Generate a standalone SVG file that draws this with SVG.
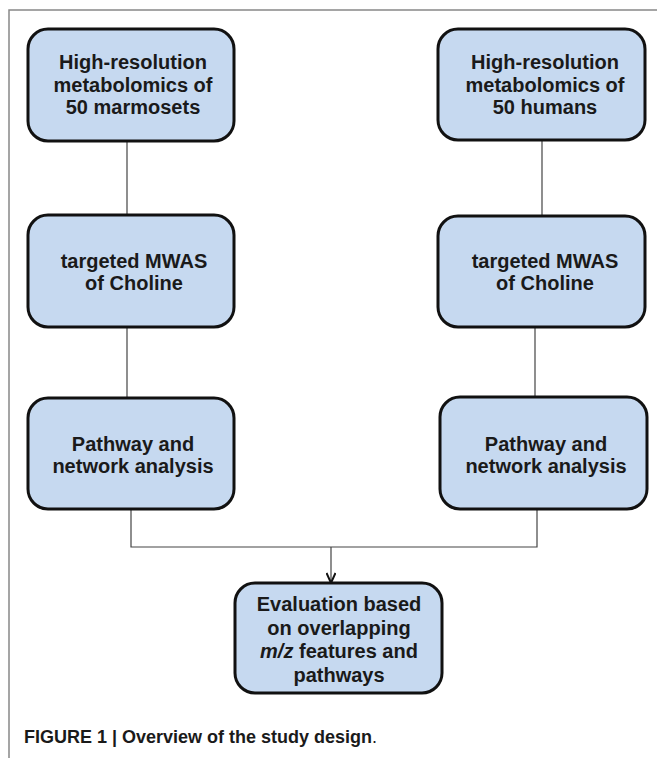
<svg xmlns="http://www.w3.org/2000/svg" width="657" height="758" viewBox="0 0 657 758">
<defs>
<style>
.box{fill:#c6d9f0;stroke:#111;stroke-width:3}
.t{font-family:"Liberation Sans",Arial,sans-serif;font-weight:bold;font-size:20px;fill:#1a1a1a;text-anchor:middle}
.c{fill:none;stroke:#444;stroke-width:1.2}
.frame{fill:none;stroke:#888;stroke-width:1.5}
.cap{font-family:"Liberation Sans",Arial,sans-serif;font-weight:bold;font-size:18px;fill:#1a1a1a}
</style>
<marker id="arr" viewBox="0 0 12 10" refX="11" refY="5" markerWidth="12" markerHeight="10" markerUnits="userSpaceOnUse" orient="auto">
<path d="M1,0.5 L11,5 L1,9.5" fill="none" stroke="#111" stroke-width="2"/>
</marker>
</defs>
<rect width="657" height="758" fill="#fff"/>
<path class="frame" d="M9,758 V10 H657"/>
<g id="connectors">
<line class="c" x1="127" y1="141" x2="127" y2="215"/>
<line class="c" x1="542" y1="140" x2="542" y2="216"/>
<line class="c" x1="127" y1="327" x2="127" y2="398"/>
<line class="c" x1="535" y1="327" x2="535" y2="397"/>
<path class="c" d="M131,509 V547 H537 V509"/>
<line class="c" x1="331" y1="547" x2="331" y2="583" marker-end="url(#arr)"/>
</g>
<g id="n1">
<rect class="box" x="28" y="29" width="206" height="112" rx="20"/>
<text class="t" x="133" y="69">High-resolution</text>
<text class="t" x="133" y="91.5">metabolomics of</text>
<text class="t" x="133" y="114">50 marmosets</text>
</g>
<g id="n2">
<rect class="box" x="438" y="29" width="207" height="111" rx="20"/>
<text class="t" x="545" y="69">High-resolution</text>
<text class="t" x="545" y="91.5">metabolomics of</text>
<text class="t" x="545" y="114">50 humans</text>
</g>
<g id="n3">
<rect class="box" x="28" y="215" width="206" height="112" rx="20"/>
<text class="t" x="134" y="268">targeted MWAS</text>
<text class="t" x="134" y="290">of Choline</text>
</g>
<g id="n4">
<rect class="box" x="438" y="216" width="207" height="111" rx="20"/>
<text class="t" x="545" y="268">targeted MWAS</text>
<text class="t" x="545" y="290">of Choline</text>
</g>
<g id="n5">
<rect class="box" x="28" y="398" width="206" height="111" rx="20"/>
<text class="t" x="133" y="451">Pathway and</text>
<text class="t" x="133" y="473">network analysis</text>
</g>
<g id="n6">
<rect class="box" x="440" y="397" width="207" height="112" rx="20"/>
<text class="t" x="546" y="451">Pathway and</text>
<text class="t" x="546" y="473">network analysis</text>
</g>
<g id="n7">
<rect class="box" x="235" y="583" width="207" height="110" rx="20"/>
<text class="t" x="339" y="611">Evaluation based</text>
<text class="t" x="339" y="635">on overlapping</text>
<text class="t" x="339" y="658"><tspan font-style="italic">m/z</tspan> features and</text>
<text class="t" x="339" y="682">pathways</text>
</g>
<text class="cap" x="24" y="743">FIGURE 1 | Overview of the study design<tspan font-weight="normal">.</tspan></text>
</svg>
